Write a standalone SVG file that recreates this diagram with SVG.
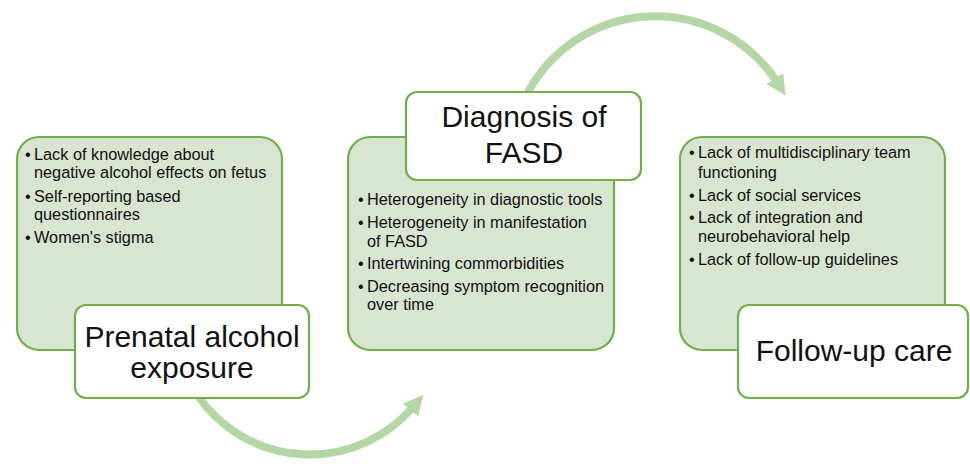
<svg xmlns="http://www.w3.org/2000/svg" width="970" height="464" viewBox="0 0 970 464">
<defs>
<style>
.panel{fill:#d8e5d0;stroke:#72ae4a;stroke-width:2.2}
.title{fill:#ffffff;stroke:#72ae4a;stroke-width:2.2}
.tt{font-family:"Liberation Sans",Arial,sans-serif;font-size:30px;fill:#111;text-anchor:middle}
.bt{font-family:"Liberation Sans",Arial,sans-serif;font-size:16.3px;fill:#111}
.arc{fill:none;stroke:#b5d6a5;stroke-width:8}
</style>
<marker id="ah" markerUnits="userSpaceOnUse" markerWidth="24" markerHeight="24" refX="4" refY="12" orient="auto" viewBox="0 0 24 24">
<path d="M0,2 L20,12 L0,22 Z" fill="#b5d6a5"/>
</marker>
</defs>
<rect width="970" height="464" fill="#ffffff"/>
<g id="connectors">
<path class="arc" d="M198,396 A136,136 0 0 0 413,407" marker-end="url(#ah)"/>
<path class="arc" d="M526,96 A145,145 0 0 1 777,82" marker-end="url(#ah)"/>
</g>
<g id="node-prenatal">
<rect class="panel" x="17" y="137" width="265" height="213" rx="22"/>
<text class="bt"><tspan x="25" y="160">•</tspan><tspan x="34" y="160">Lack of knowledge about</tspan></text>
<text class="bt" x="34" y="178">negative alcohol effects on fetus</text>
<text class="bt"><tspan x="25" y="202">•</tspan><tspan x="34" y="202">Self-reporting based</tspan></text>
<text class="bt" x="34" y="220">questionnaires</text>
<text class="bt"><tspan x="25" y="243">•</tspan><tspan x="34" y="243">Women's stigma</tspan></text>
<rect class="title" x="75" y="305" width="234" height="93" rx="11"/>
<text class="tt" x="192" y="347">Prenatal alcohol</text>
<text class="tt" x="192" y="378">exposure</text>
</g>
<g id="node-diagnosis">
<rect class="panel" x="348" y="137" width="266" height="213" rx="22"/>
<text class="bt"><tspan x="358" y="205">•</tspan><tspan x="367" y="205">Heterogeneity in diagnostic tools</tspan></text>
<text class="bt"><tspan x="358" y="228">•</tspan><tspan x="367" y="228">Heterogeneity in manifestation</tspan></text>
<text class="bt" x="367" y="247">of FASD</text>
<text class="bt"><tspan x="358" y="269">•</tspan><tspan x="367" y="269">Intertwining commorbidities</tspan></text>
<text class="bt"><tspan x="358" y="292">•</tspan><tspan x="367" y="292">Decreasing symptom recognition</tspan></text>
<text class="bt" x="367" y="310">over time</text>
<rect class="title" x="406" y="92" width="235" height="88" rx="11"/>
<text class="tt" x="524" y="127">Diagnosis of</text>
<text class="tt" x="524" y="163">FASD</text>
</g>
<g id="node-followup">
<rect class="panel" x="680" y="137" width="265" height="213" rx="22"/>
<text class="bt"><tspan x="689" y="158">•</tspan><tspan x="698" y="158">Lack of multidisciplinary team</tspan></text>
<text class="bt" x="698" y="178">functioning</text>
<text class="bt"><tspan x="689" y="201">•</tspan><tspan x="698" y="201">Lack of social services</tspan></text>
<text class="bt"><tspan x="689" y="223">•</tspan><tspan x="698" y="223">Lack of integration and</tspan></text>
<text class="bt" x="698" y="242">neurobehavioral help</text>
<text class="bt"><tspan x="689" y="265">•</tspan><tspan x="698" y="265">Lack of follow-up guidelines</tspan></text>
<rect class="title" x="738" y="305" width="230" height="93" rx="11"/>
<text class="tt" x="854" y="361">Follow-up care</text>
</g>
</svg>
